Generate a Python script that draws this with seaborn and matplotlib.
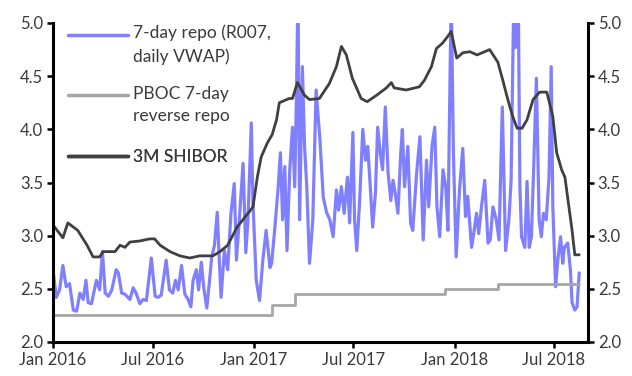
import matplotlib
matplotlib.use("Agg")
import matplotlib.pyplot as plt
import matplotlib.dates as mdates
import matplotlib.ticker as mticker
import pandas as pd
import seaborn as sns

# 7-day repo rate (R007, daily VWAP), %
r007_dates = [
    "2016-01-01", "2016-01-07", "2016-01-13", "2016-01-19", "2016-01-25", "2016-01-31",
    "2016-02-07", "2016-02-13", "2016-02-19", "2016-02-25", "2016-03-01", "2016-03-05",
    "2016-03-11", "2016-03-20", "2016-03-26", "2016-03-31", "2016-04-05", "2016-04-11",
    "2016-04-17", "2016-04-25", "2016-04-29", "2016-05-05", "2016-05-11", "2016-05-20",
    "2016-05-26", "2016-06-01", "2016-06-07", "2016-06-13", "2016-06-19", "2016-06-28",
    "2016-07-05", "2016-07-10", "2016-07-16", "2016-07-25", "2016-07-31", "2016-08-06",
    "2016-08-11", "2016-08-16", "2016-08-22", "2016-08-28", "2016-09-03", "2016-09-08",
    "2016-09-12", "2016-09-18", "2016-09-22", "2016-09-27", "2016-10-02", "2016-10-07",
    "2016-10-12", "2016-10-16", "2016-10-21", "2016-10-26", "2016-10-30", "2016-11-02",
    "2016-11-08", "2016-11-14", "2016-11-20", "2016-11-26", "2016-11-30", "2016-12-06",
    "2016-12-12", "2016-12-17", "2016-12-21", "2016-12-27", "2016-12-30",
    "2017-01-05", "2017-01-11", "2017-01-17", "2017-01-23", "2017-01-30", "2017-02-02",
    "2017-02-08", "2017-02-14", "2017-02-18", "2017-02-22", "2017-02-26", "2017-03-02",
    "2017-03-07", "2017-03-12", "2017-03-16", "2017-03-19", "2017-03-22", "2017-03-25",
    "2017-03-30", "2017-04-03", "2017-04-07", "2017-04-12", "2017-04-18", "2017-04-24",
    "2017-05-01", "2017-05-07", "2017-05-13", "2017-05-19", "2017-05-25", "2017-05-31",
    "2017-06-04", "2017-06-09", "2017-06-14", "2017-06-20", "2017-06-24", "2017-06-30",
    "2017-07-03", "2017-07-07", "2017-07-12", "2017-07-18", "2017-07-23", "2017-07-27",
    "2017-08-01", "2017-08-05", "2017-08-10", "2017-08-14", "2017-08-19", "2017-08-23",
    "2017-08-28", "2017-09-02", "2017-09-07", "2017-09-11", "2017-09-15", "2017-09-20",
    "2017-09-25", "2017-09-28", "2017-10-02", "2017-10-08", "2017-10-13", "2017-10-17",
    "2017-10-24", "2017-10-30", "2017-11-05", "2017-11-11", "2017-11-15", "2017-11-21",
    "2017-11-26", "2017-11-30", "2017-12-05", "2017-12-11", "2017-12-16", "2017-12-20",
    "2017-12-26", "2017-12-30",
    "2018-01-04", "2018-01-10", "2018-01-16", "2018-01-21", "2018-01-25", "2018-02-01",
    "2018-02-05", "2018-02-10", "2018-02-14", "2018-02-19", "2018-02-25", "2018-03-03",
    "2018-03-07", "2018-03-12", "2018-03-18", "2018-03-23", "2018-03-29", "2018-04-04",
    "2018-04-10", "2018-04-14", "2018-04-19", "2018-04-22", "2018-04-27", "2018-04-30",
    "2018-05-03", "2018-05-09", "2018-05-13", "2018-05-17", "2018-05-21", "2018-05-25",
    "2018-05-30", "2018-06-04", "2018-06-08", "2018-06-12", "2018-06-17", "2018-06-22",
    "2018-06-26", "2018-06-29", "2018-07-04", "2018-07-08", "2018-07-13", "2018-07-17",
    "2018-07-20", "2018-07-26", "2018-07-31", "2018-08-03", "2018-08-08", "2018-08-12",
    "2018-08-16",
]
r007_values = [
    2.68, 2.42, 2.49, 2.72, 2.52, 2.55,
    2.30, 2.29, 2.46, 2.40, 2.58, 2.37,
    2.36, 2.58, 2.49, 2.85, 2.46, 2.43,
    2.49, 2.68, 2.65, 2.46, 2.45, 2.40,
    2.51, 2.45, 2.36, 2.40, 2.39, 2.79,
    2.43, 2.42, 2.44, 2.77, 2.49, 2.46,
    2.58, 2.49, 2.72, 2.45, 2.40, 2.33,
    2.58, 2.68, 2.49, 2.75, 2.49, 2.32,
    2.58, 2.80, 2.91, 3.22, 2.74, 2.42,
    2.86, 2.68, 3.21, 3.49, 2.77, 3.21,
    3.68, 2.84, 3.15, 4.06, 3.31,
    2.58, 2.39, 2.77, 3.05, 2.70, 2.74,
    3.08, 3.46, 3.78, 3.15, 3.65, 2.86,
    3.62, 4.02, 3.46, 4.25, 5.30, 3.15,
    4.59, 3.84, 3.46, 2.74, 3.15, 4.37,
    3.90, 3.36, 3.22, 3.15, 2.99, 3.43,
    3.24, 3.46, 3.21, 3.55, 3.12, 3.97,
    3.15, 2.86, 3.30, 4.00, 3.71, 3.84,
    3.43, 3.08, 3.40, 4.02, 3.77, 3.62,
    4.21, 3.59, 3.33, 3.52, 3.40, 3.21,
    3.77, 4.00, 3.46, 3.84, 3.12, 3.05,
    3.59, 3.93, 2.96, 3.71, 3.27, 3.84,
    4.02, 3.27, 2.99, 3.62, 3.46, 3.05,
    5.30, 3.77,
    2.80, 3.43, 3.82, 3.18, 3.37, 2.89,
    3.02, 3.21, 3.02, 3.27, 3.52, 2.93,
    2.96, 3.27, 3.15, 2.96, 4.21, 2.86,
    3.15, 3.52, 5.30, 4.77, 5.30, 3.46,
    2.99, 2.89, 3.51, 2.89, 2.99, 3.62,
    4.48, 3.15, 2.99, 3.21, 3.15, 3.55,
    4.59, 3.27, 2.52, 2.77, 2.99, 2.74,
    2.89, 2.93, 2.68, 2.37, 2.30, 2.33,
    2.65,
]

# PBOC 7-day reverse repo rate, % (value holds until the next date)
pboc_dates = ["2016-01-01", "2017-02-03", "2017-03-16", "2017-12-14", "2018-03-22", "2018-08-16"]
pboc_values = [2.25, 2.35, 2.45, 2.50, 2.55, 2.55]

# 3-month SHIBOR, %
shibor_dates = [
    "2016-01-01", "2016-01-19", "2016-01-28", "2016-02-15", "2016-03-03", "2016-03-14",
    "2016-03-26", "2016-04-01", "2016-04-23", "2016-05-02", "2016-05-11", "2016-05-20",
    "2016-06-07", "2016-06-25", "2016-07-04", "2016-07-14", "2016-08-01", "2016-08-19",
    "2016-09-06", "2016-09-24", "2016-10-18", "2016-10-31", "2016-11-14", "2016-12-01",
    "2016-12-21", "2016-12-30", "2017-01-07", "2017-01-14", "2017-01-25", "2017-02-03",
    "2017-02-11", "2017-02-16", "2017-03-06", "2017-03-12", "2017-03-21", "2017-04-03",
    "2017-04-12", "2017-04-30", "2017-05-18", "2017-05-31", "2017-06-09", "2017-06-18",
    "2017-06-29", "2017-07-15", "2017-07-26", "2017-08-12", "2017-08-30", "2017-09-08",
    "2017-09-13", "2017-10-05", "2017-10-29", "2017-11-07", "2017-11-20", "2017-11-29",
    "2017-12-10", "2017-12-19", "2017-12-26", "2018-01-05", "2018-01-16", "2018-01-29",
    "2018-02-11", "2018-03-06", "2018-03-21", "2018-03-30", "2018-04-08", "2018-04-17",
    "2018-04-25", "2018-05-04", "2018-05-13", "2018-05-24", "2018-06-05", "2018-06-18",
    "2018-06-29", "2018-07-06", "2018-07-15", "2018-07-21", "2018-08-03", "2018-08-08",
    "2018-08-16",
]
shibor_values = [
    3.10, 2.98, 3.12, 3.05, 2.91, 2.80,
    2.80, 2.85, 2.85, 2.91, 2.89, 2.94,
    2.95, 2.97, 2.97, 2.91, 2.85, 2.81,
    2.79, 2.81, 2.81, 2.85, 2.91, 3.08,
    3.21, 3.27, 3.55, 3.74, 3.87, 3.95,
    4.09, 4.25, 4.29, 4.29, 4.44, 4.32,
    4.28, 4.29, 4.43, 4.59, 4.78, 4.70,
    4.48, 4.29, 4.26, 4.32, 4.39, 4.44,
    4.39, 4.37, 4.40, 4.46, 4.59, 4.76,
    4.81, 4.87, 4.92, 4.67, 4.72, 4.73,
    4.70, 4.75, 4.63, 4.46, 4.28, 4.12,
    4.01, 4.01, 4.09, 4.28, 4.35, 4.35,
    4.12, 3.78, 3.62, 3.55, 3.05, 2.82,
    2.82,
]

series_labels = ["7-day repo (R007,\ndaily VWAP)", "PBOC 7-day\nreverse repo", "3M SHIBOR"]
series_colors = ["#8080FF", "#A6A6A6", "#404040"]
y_ticks = [2.0, 2.5, 3.0, 3.5, 4.0, 4.5, 5.0]

r007 = pd.DataFrame({"date": pd.to_datetime(r007_dates), "rate": r007_values})
pboc = pd.DataFrame({"date": pd.to_datetime(pboc_dates), "rate": pboc_values})
shibor = pd.DataFrame({"date": pd.to_datetime(shibor_dates), "rate": shibor_values})

sns.set_theme(style="white")
plt.rcParams["font.family"] = ["Lato", "DejaVu Sans"]

TEXT = "#3a3a3a"
W, H = 632, 376
fig = plt.figure(figsize=(W / 100, H / 100), dpi=100)
ax = fig.add_axes([53 / W, 1 - 342 / H, (588 - 53) / W, (342 - 23) / H])

sns.lineplot(data=r007, x="date", y="rate", ax=ax, color=series_colors[0], lw=2.3,
             legend=False)
sns.lineplot(data=pboc, x="date", y="rate", ax=ax, color=series_colors[1], lw=2.0,
             drawstyle="steps-post", legend=False)
sns.lineplot(data=shibor, x="date", y="rate", ax=ax, color=series_colors[2], lw=2.0,
             legend=False)

ax.set_xlim(pd.Timestamp("2016-01-01"), pd.Timestamp("2018-09-01"))
ax.set_ylim(2.0, 5.0)
ax.set_xlabel("")
ax.set_ylabel("")
ax.set_yticks(y_ticks)
ax.yaxis.set_major_formatter(mticker.FormatStrFormatter("%.1f"))
ax.xaxis.set_major_locator(mdates.MonthLocator(bymonth=[1, 7]))
ax.xaxis.set_major_formatter(mdates.DateFormatter("%b %Y"))

ax2 = ax.twinx()
ax2.set_ylim(2.0, 5.0)
ax2.set_yticks(y_ticks)
ax2.yaxis.set_major_formatter(mticker.FormatStrFormatter("%.1f"))

for a in (ax, ax2):
    for s in a.spines.values():
        s.set_color("black")
        s.set_linewidth(2.2)
    a.spines["top"].set_visible(False)
ax.spines["right"].set_visible(False)
ax2.spines["left"].set_visible(False)
ax2.spines["bottom"].set_visible(False)

ax.tick_params(axis="both", which="major", direction="out", length=4, width=1.8,
               color="black", labelsize=12, labelcolor=TEXT, pad=3,
               bottom=True, left=True)
ax2.tick_params(axis="y", which="major", direction="out", length=4, width=1.8,
                color="black", labelsize=12, labelcolor=TEXT, pad=3, right=True)

# one legend block per series, stacked down the upper-left corner
legend_tops = [0.994, 0.803, 0.605]
legends = []
for line, label, top in zip(ax.get_lines(), series_labels, legend_tops):
    lg = ax2.legend([line], [label], loc="upper left", frameon=False, fontsize=12.5,
                    handlelength=3.45, handletextpad=0.3, borderpad=0.0,
                    borderaxespad=0.0, bbox_to_anchor=(0.028, top))
    for t in lg.get_texts():
        t.set_color(TEXT)
        t.set_linespacing(1.5)
    for h in lg.legend_handles:
        h.set_linewidth(2.5)
    ax2.add_artist(lg)
    legends.append(lg)

# put each legend key level with the first line of its label
fig.canvas.draw()
for lg in legends:
    for h, t in zip(lg.legend_handles, lg.get_texts()):
        n = t.get_text().count("\n") + 1
        if n > 1:
            tb = t.get_window_extent()
            first_line_y = tb.y1 - tb.height / n / 2
            hy = h.get_transform().transform((0, h.get_ydata()[0]))[1]
            h.set_ydata(h.get_ydata() + (first_line_y - hy) * 72 / fig.dpi)

fig.savefig("out.png", dpi=100)
